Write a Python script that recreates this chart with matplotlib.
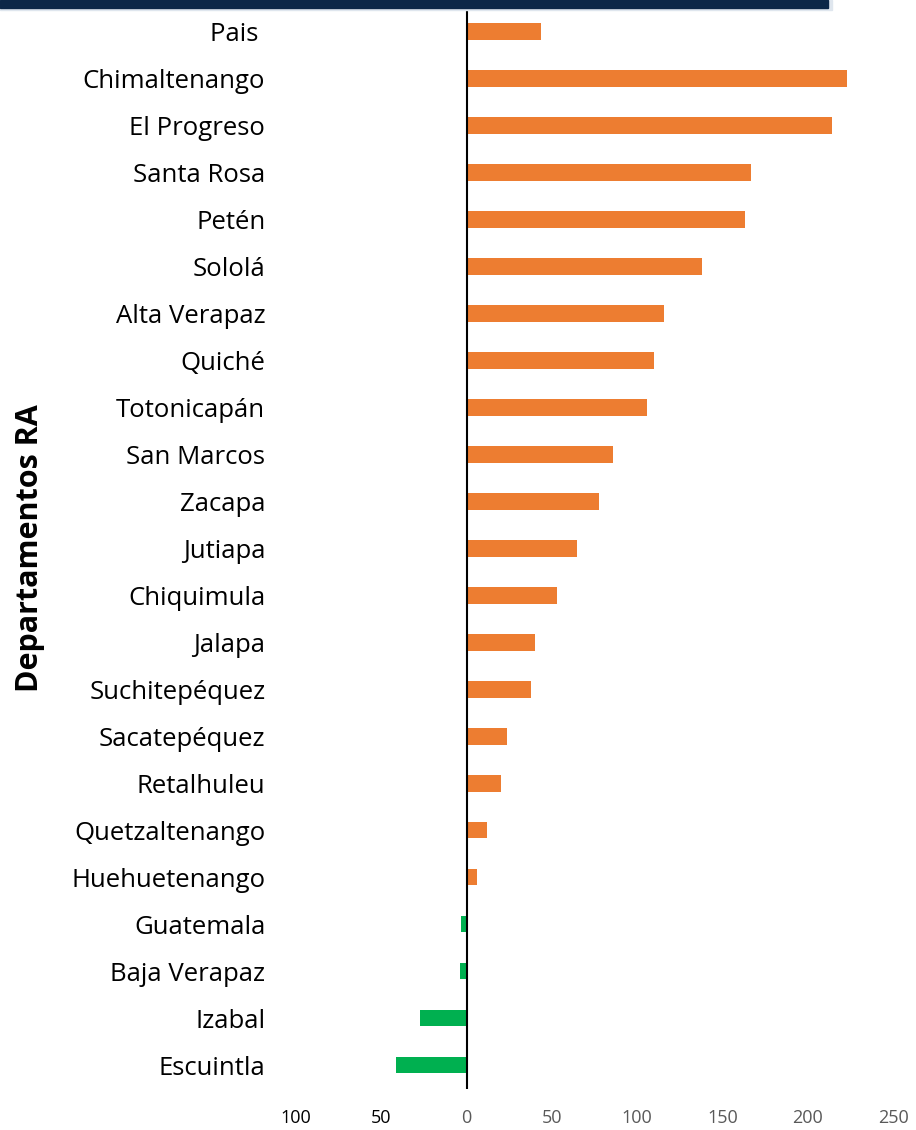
import matplotlib
matplotlib.use('Agg')
import matplotlib.pyplot as plt
import matplotlib.patches as patches
import numpy as np

departamentos = ['Pais ', 'Chimaltenango', 'El Progreso', 'Santa Rosa', 'Petén',
                 'Sololá', 'Alta Verapaz', 'Quiché', 'Totonicapán', 'San Marcos',
                 'Zacapa', 'Jutiapa', 'Chiquimula', 'Jalapa', 'Suchitepéquez',
                 'Sacatepéquez', 'Retalhuleu', 'Quetzaltenango', 'Huehuetenango',
                 'Guatemala', 'Baja Verapaz', 'Izabal', 'Escuintla']
valores = [43.4, 222.9, 214, 167, 163, 138, 116, 110, 106, 85.6, 77.4, 65,
           52.8, 40, 38, 23.5, 20.5, 12.3, 5.9, -3, -4, -27, -41.6]
xticks = [-100, -50, 0, 50, 100, 150, 200, 250]

plt.rcParams['font.family'] = ['Open Sans', 'DejaVu Sans']

fig = plt.figure(figsize=(9.16, 11.3), dpi=100)
ax = fig.add_axes([0.323, 0.0367, 0.652, 0.9566])

y = np.arange(len(departamentos))
colores = ['#ED7D31' if v >= 0 else '#00B050' for v in valores]
ax.barh(y, valores, height=0.36, color=colores, zorder=2)
ax.axvline(0, color='black', lw=1.5, zorder=3)

ax.set_ylim(len(departamentos) - 0.5, -0.5)
ax.set_xlim(-100, 250)
ax.set_yticks(y)
ax.set_yticklabels(departamentos, fontsize=18.5)
ax.set_xticks(xticks)
ax.set_xticklabels([str(abs(t)) for t in xticks], fontsize=13)
for lbl, t in zip(ax.get_xticklabels(), xticks):
    lbl.set_color('black' if t < 0 else '#595959')

ax.tick_params(axis='y', length=0, pad=22)
ax.tick_params(axis='x', length=0, pad=15)
for s in ax.spines.values():
    s.set_visible(False)

fig.text(0.033, 0.515, 'Departamentos RA', rotation=90, fontsize=22,
         fontweight='bold', ha='center', va='center')

# banda superior
fig.patches.append(patches.Rectangle((0, 1 - 10 / 1130), 832 / 916, 10 / 1130,
                                     transform=fig.transFigure, color='#dfe6ee',
                                     zorder=0))
fig.patches.append(patches.Rectangle((0, 1 - 8 / 1130), 828 / 916, 8 / 1130,
                                     transform=fig.transFigure, color='#0c2747',
                                     zorder=1))

fig.savefig('out.png', dpi=100)
